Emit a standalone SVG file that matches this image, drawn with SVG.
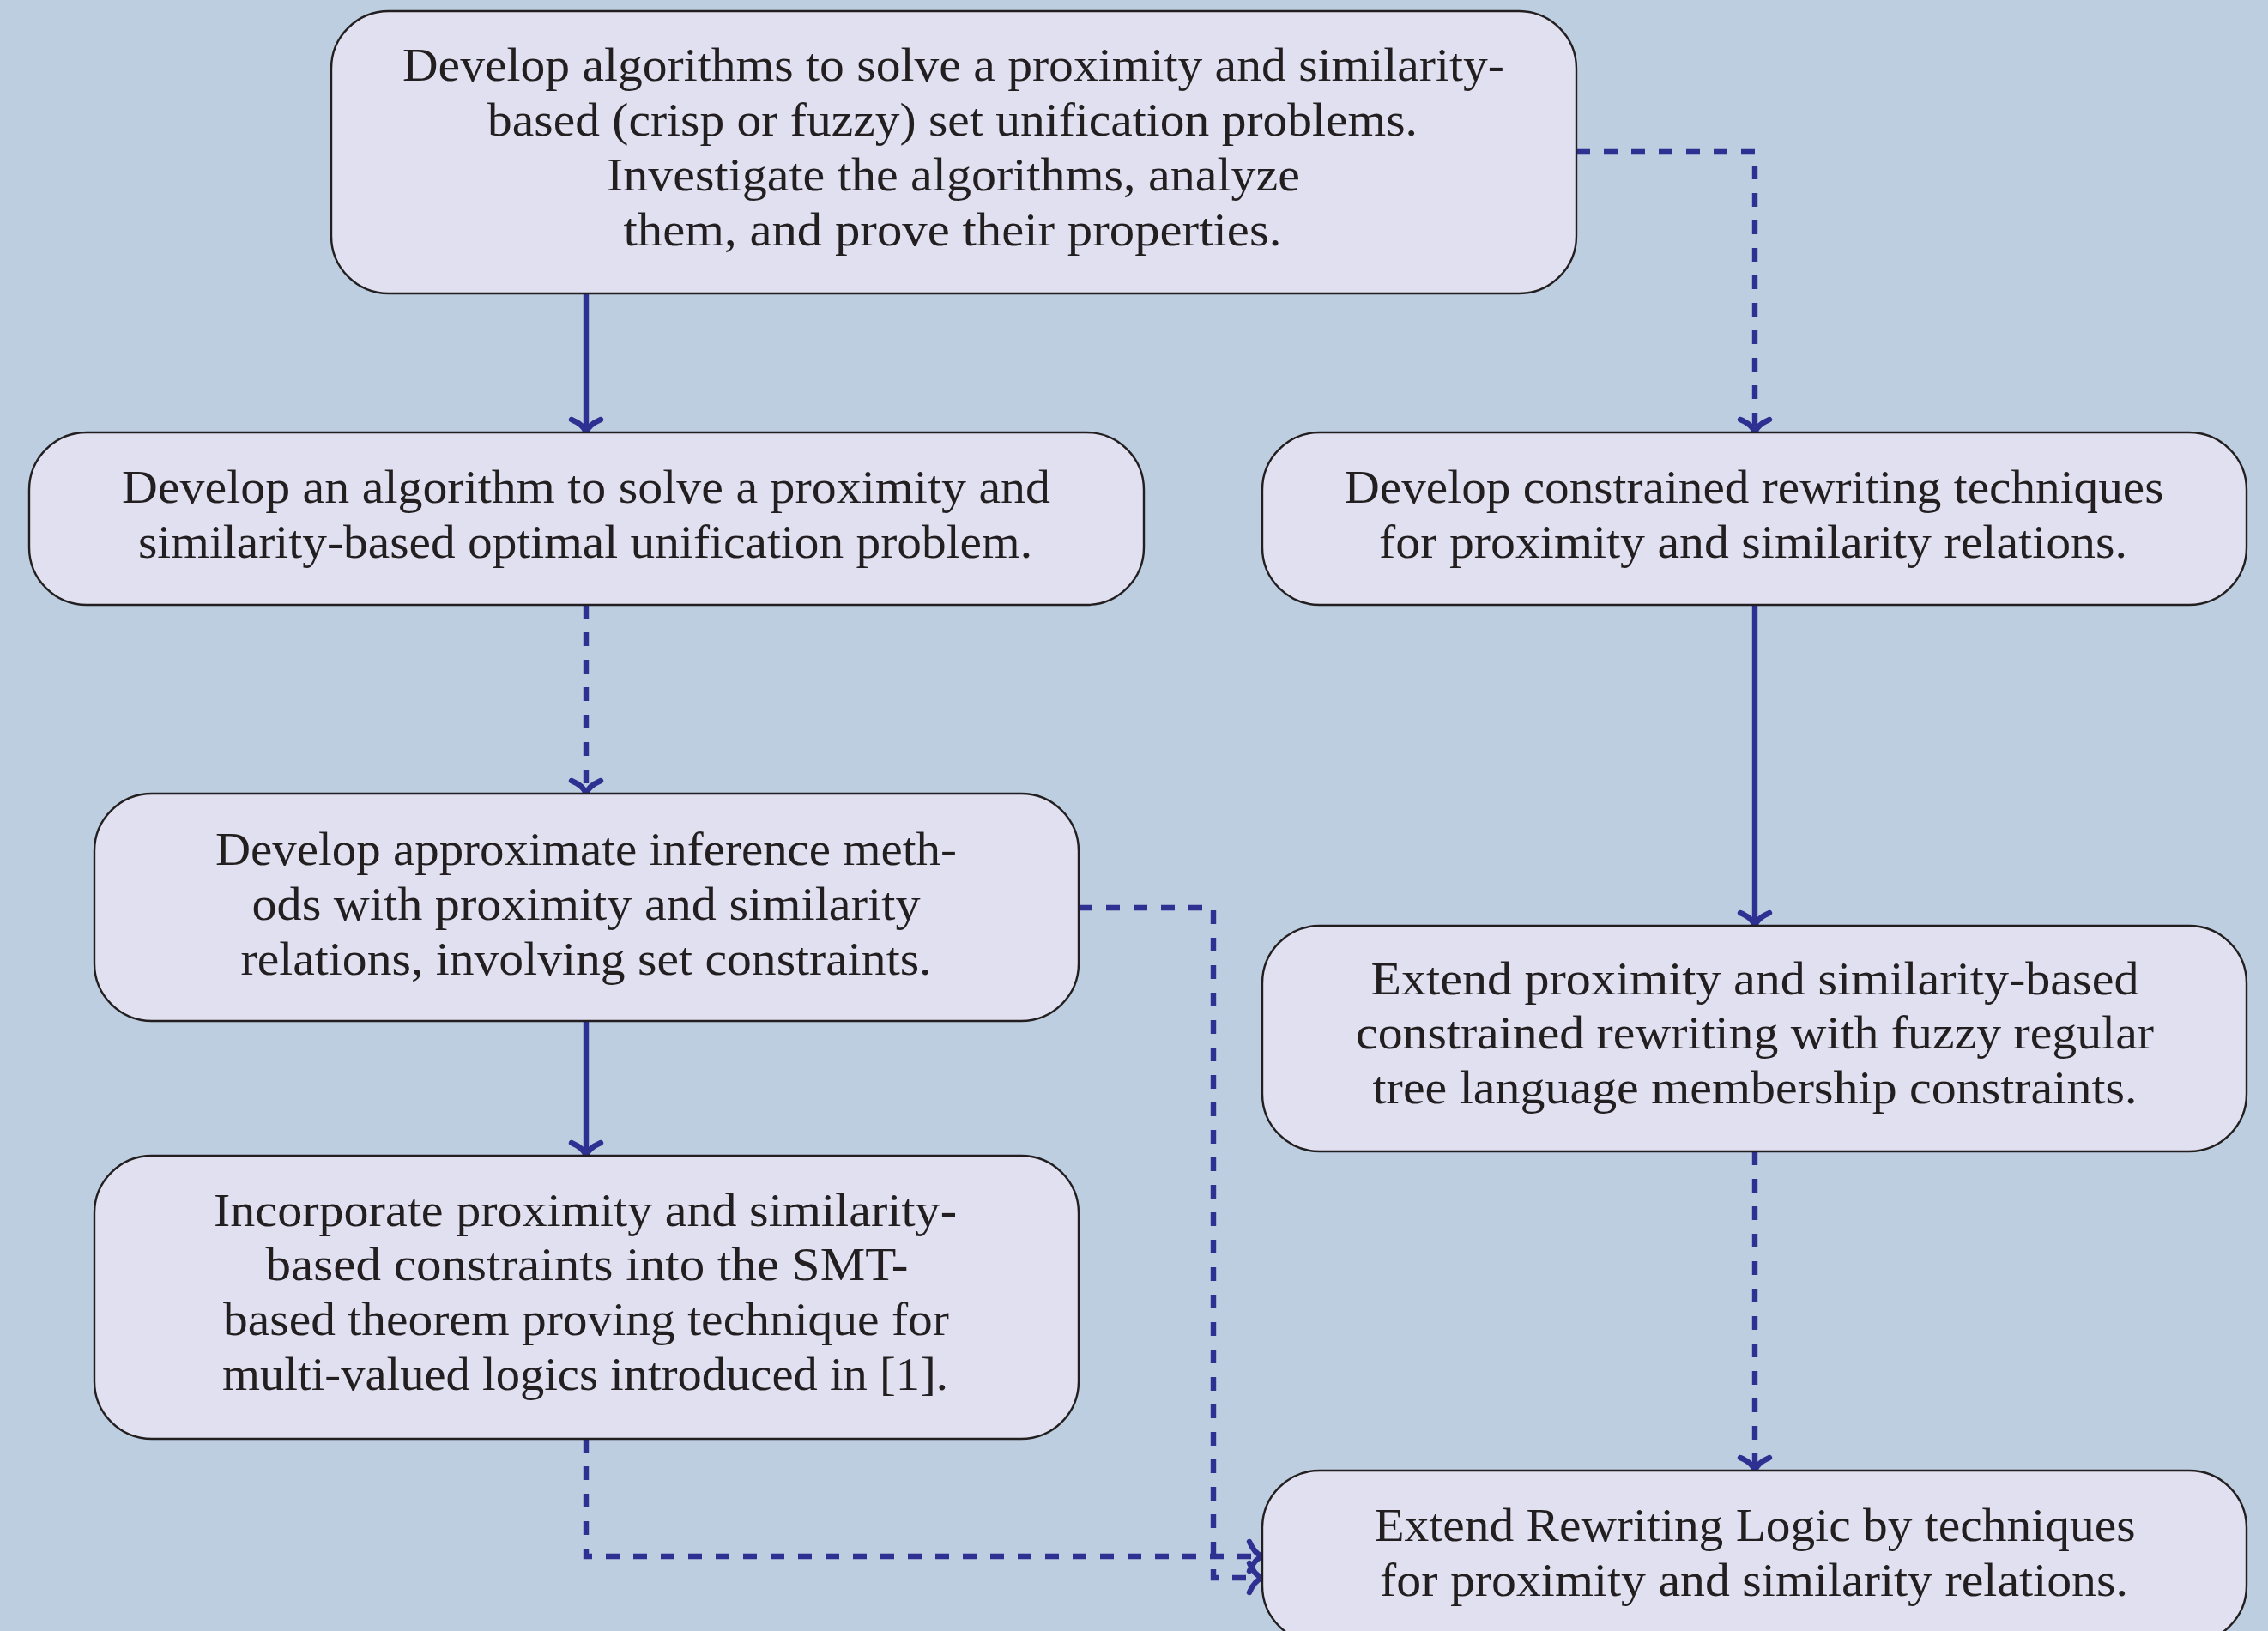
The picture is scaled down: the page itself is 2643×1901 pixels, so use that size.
<svg xmlns="http://www.w3.org/2000/svg" width="2643" height="1901" viewBox="0 0 2643 1901">
<style>
.box{fill:#e0e0f0;stroke:#231f20;stroke-width:2.4}
.t{font-family:"Liberation Serif","DejaVu Serif",serif;font-size:54px;fill:#231f20;text-anchor:middle}
.c{fill:none;stroke:#2e3192;stroke-width:6.4;stroke-linejoin:miter}
.d{stroke-dasharray:16 16}
</style>
<defs>
<marker id="arr" markerUnits="userSpaceOnUse" orient="auto" refX="-4" refY="0" markerWidth="40" markerHeight="40" overflow="visible">
<path d="M-15,-17 Q-9,-3 0,0 Q-9,3 -15,17" fill="none" stroke="#2e3192" stroke-width="6.4" stroke-linecap="round" stroke-linejoin="round"/>
</marker>
</defs>
<rect width="2643" height="1901" fill="#bccee0"/>
<g id="connectors">
<path class="c" d="M683,342 V500" marker-end="url(#arr)"/>
<path class="c d" d="M1837,177 H2045 V500" marker-end="url(#arr)"/>
<path class="c d" d="M683,705 V921" marker-end="url(#arr)"/>
<path class="c" d="M2045,705 V1075" marker-end="url(#arr)"/>
<path class="c" d="M683,1190 V1343" marker-end="url(#arr)"/>
<path class="c d" d="M2045,1342 V1710" marker-end="url(#arr)"/>
<path class="c d" d="M1257,1058 H1414 V1839 H1467" marker-end="url(#arr)"/>
<path class="c d" d="M683,1677 V1814 H1467" marker-end="url(#arr)"/>
</g>
<g id="nodeA">
<rect class="box" x="386" y="13" width="1451" height="329" rx="67"/>
<text class="t" x="1111" y="94" textLength="1284" lengthAdjust="spacingAndGlyphs">Develop algorithms to solve a proximity and similarity-</text>
<text class="t" x="1110" y="158" textLength="1084" lengthAdjust="spacingAndGlyphs">based (crisp or fuzzy) set unification problems.</text>
<text class="t" x="1111" y="222" textLength="808" lengthAdjust="spacingAndGlyphs">Investigate the algorithms, analyze</text>
<text class="t" x="1110" y="286" textLength="767" lengthAdjust="spacingAndGlyphs">them, and prove their properties.</text>
</g>
<g id="nodeB">
<rect class="box" x="34" y="504" width="1299" height="201" rx="67"/>
<text class="t" x="683" y="586" textLength="1082" lengthAdjust="spacingAndGlyphs">Develop an algorithm to solve a proximity and</text>
<text class="t" x="682" y="650" textLength="1042" lengthAdjust="spacingAndGlyphs">similarity-based optimal unification problem.</text>
</g>
<g id="nodeC">
<rect class="box" x="1471" y="504" width="1147" height="201" rx="67"/>
<text class="t" x="2044" y="586" textLength="955" lengthAdjust="spacingAndGlyphs">Develop constrained rewriting techniques</text>
<text class="t" x="2043" y="650" textLength="872" lengthAdjust="spacingAndGlyphs">for proximity and similarity relations.</text>
</g>
<g id="nodeD">
<rect class="box" x="110" y="925" width="1147" height="265" rx="67"/>
<text class="t" x="683" y="1008" textLength="864" lengthAdjust="spacingAndGlyphs">Develop approximate inference meth-</text>
<text class="t" x="683" y="1072" textLength="779" lengthAdjust="spacingAndGlyphs">ods with proximity and similarity</text>
<text class="t" x="683" y="1136" textLength="805" lengthAdjust="spacingAndGlyphs">relations, involving set constraints.</text>
</g>
<g id="nodeE">
<rect class="box" x="110" y="1347" width="1147" height="330" rx="67"/>
<text class="t" x="682" y="1429" textLength="866" lengthAdjust="spacingAndGlyphs">Incorporate proximity and similarity-</text>
<text class="t" x="684" y="1492" textLength="749" lengthAdjust="spacingAndGlyphs">based constraints into the SMT-</text>
<text class="t" x="683" y="1556" textLength="846" lengthAdjust="spacingAndGlyphs">based theorem proving technique for</text>
<text class="t" x="682" y="1620" textLength="846" lengthAdjust="spacingAndGlyphs">multi-valued logics introduced in [1].</text>
</g>
<g id="nodeF">
<rect class="box" x="1471" y="1079" width="1147" height="263" rx="67"/>
<text class="t" x="2045" y="1159" textLength="895" lengthAdjust="spacingAndGlyphs">Extend proximity and similarity-based</text>
<text class="t" x="2045" y="1222" textLength="930" lengthAdjust="spacingAndGlyphs">constrained rewriting with fuzzy regular</text>
<text class="t" x="2045" y="1286" textLength="891" lengthAdjust="spacingAndGlyphs">tree language membership constraints.</text>
</g>
<g id="nodeG">
<rect class="box" x="1471" y="1714" width="1147" height="201" rx="67"/>
<text class="t" x="2045" y="1796" textLength="887" lengthAdjust="spacingAndGlyphs">Extend Rewriting Logic by techniques</text>
<text class="t" x="2044" y="1860" textLength="872" lengthAdjust="spacingAndGlyphs">for proximity and similarity relations.</text>
</g>
</svg>
